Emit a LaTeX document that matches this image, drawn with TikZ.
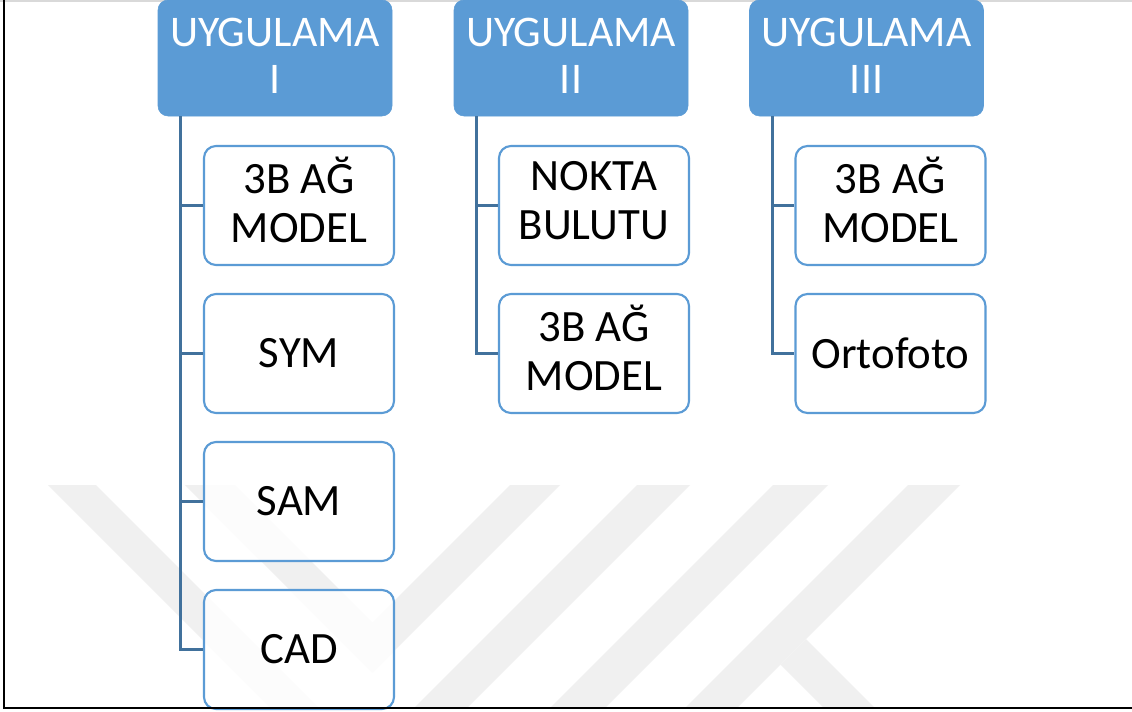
\documentclass[tikz,border=0pt]{standalone}
\usepackage{fontspec}
\setmainfont{Carlito}
\usetikzlibrary{calc}
\definecolor{hdr}{RGB}{91,155,213}
\definecolor{bdr}{RGB}{91,155,213}
\definecolor{conn}{RGB}{65,113,156}
\definecolor{wm}{RGB}{240,240,240}
\definecolor{topline}{RGB}{217,217,217}
\begin{document}
\begin{tikzpicture}[x=0.75pt,y=-0.75pt,
  hdrbox/.style={fill=hdr, draw=hdr, rounded corners=7.5pt, minimum width=175.5pt, minimum height=87pt, inner sep=0pt},
  hdrtext/.style={text=white, align=center, inner sep=0pt, font=\fontsize{32.8}{35}\selectfont},
  childbox/.style={draw=bdr, line width=1.6pt, fill=white, fill opacity=0.8, text opacity=1, rounded corners=9pt, minimum width=142.5pt, minimum height=89.25pt, inner sep=0pt, align=center, font=\fontsize{33.6}{36.8}\selectfont},
  childtext/.style={align=center, inner sep=0pt, font=\fontsize{33.6}{36.8}\selectfont},
  link/.style={draw=conn, line width=1.9pt},
  wmark/.style={fill=wm, draw=none}]
\useasboundingbox (0,0) rectangle (1132,711);
\fill[white] (0,0) rectangle (1132,711);
% watermark
\begin{scope}
  \clip (5,480) rectangle (1132,707);
  \fill[wmark] (48,485) -- (96,485) -- (318,707) -- (270,707) -- cycle;
  \fill[wmark] (185,485) -- (235,485) -- (372.5,622.5) -- (510,485) -- (560,485) -- (372.5,672.5) -- cycle;
  \fill[wmark] (637,485) -- (690,485) -- (468,707) -- (415,707) -- cycle;
  \fill[wmark] (773,485) -- (828,485) -- (606,707) -- (551,707) -- cycle;
  \fill[wmark] (908,485) -- (960,485) -- (738,707) -- (686,707) -- cycle;
  \fill[wmark] (806,639) -- (874,707) -- (823,707) -- (780.5,664.5) -- cycle;
\end{scope}
% frame top
\draw[topline, line width=1.2pt] (0,0.8) -- (1132,0.8);
% headers
\node[hdrbox] (h1) at (275,58) {};
\node[hdrbox] (h2) at (571,58) {};
\node[hdrbox] (h3) at (866.5,58) {};
\node[hdrtext] (h1t) at ([yshift=1.6pt]h1.center) {UYGULAMA\\I};
\node[hdrtext] (h2t) at ([yshift=1.6pt]h2.center) {UYGULAMA\\II};
\node[hdrtext] (h3t) at ([yshift=1.6pt]h3.center) {UYGULAMA\\III};
% children
\node[childbox] (a1) at (299,205.5) {};
\node[childbox] (a2) at (299,353.5) {SYM};
\node[childbox] (a3) at (299,501.5) {SAM};
\node[childbox] (a4) at (299,649.5) {CAD};
\node[childbox] (b1) at (594,205.5) {};
\node[childbox] (b2) at (594,353.5) {};
\node[childbox] (c1) at (890.5,205.5) {};
\node[childbox] (c2) at (890.5,353.5) {Ortofoto};
\node[childtext] (a1t) at ([yshift=4pt]a1.center) {3B AĞ\\MODEL};
\node[childtext] (b1t) at ([yshift=4pt]b1.center) {NOKTA\\BULUTU};
\node[childtext] (b2t) at ([yshift=4pt]b2.center) {3B AĞ\\MODEL};
\node[childtext] (c1t) at ([yshift=4pt]c1.center) {3B AĞ\\MODEL};
% connectors
\foreach \t in {a1,a2,a3,a4} \draw[link] ($(h1.south west)+(23,0)$) |- (\t.west);
\foreach \t in {b1,b2} \draw[link] ($(h2.south west)+(23,0)$) |- (\t.west);
\foreach \t in {c1,c2} \draw[link] ($(h3.south west)+(23,0)$) |- (\t.west);
\draw[black, line width=2pt] (4,0) -- (4,708) -- (1132,708);
\end{tikzpicture}
\end{document}
